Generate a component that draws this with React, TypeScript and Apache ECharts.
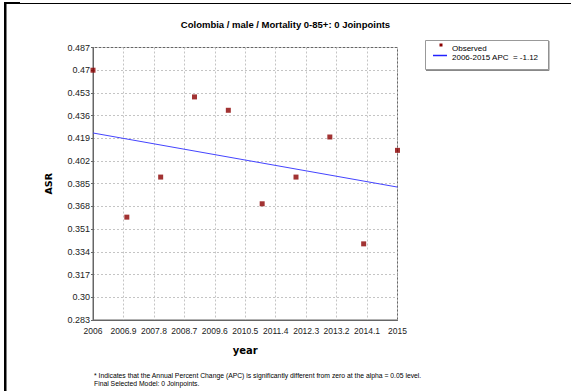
import React, { useEffect, useRef } from "react";
import * as echarts from "echarts";

const years = [2006, 2007, 2008, 2009, 2010, 2011, 2012, 2013, 2014, 2015];
const observed = [0.47, 0.36, 0.39, 0.45, 0.44, 0.37, 0.39, 0.42, 0.34, 0.41];
const fitYears = [2006, 2015];
const fitValues = [0.423, 0.3825];
const titleText = "Colombia / male / Mortality 0-85+: 0 Joinpoints";
const legendLabels = ["Observed", "2006-2015 APC  = -1.12"];
const footnotes = [
  "* Indicates that the Annual Percent Change (APC) is significantly different from zero at the alpha = 0.05 level.",
  "Final Selected Model: 0 Joinpoints.",
];
const yMin = 0.283;
const yMax = 0.487;
const yStep = 0.017;
const xMin = 2006;
const xMax = 2015;
const xStep = 0.9;

const FONT = "'Liberation Sans', Arial, sans-serif";
const BOLD = "'DejaVu Sans', 'Liberation Sans', sans-serif";

function fmtY(v: number): string {
  let s = v.toFixed(3);
  while (s.endsWith("0") && s.split(".")[1].length > 2) s = s.slice(0, -1);
  return s;
}
function fmtX(v: number): string {
  return String(parseFloat(v.toFixed(1)));
}

export default function App() {
  const ref = useRef<HTMLDivElement>(null);
  useEffect(() => {
    if (!ref.current) return;
    const chart = echarts.init(ref.current, null, { renderer: "svg" });
    const gridLine = { show: true, lineStyle: { color: "#c4c4c4", type: [2, 2] as any, width: 1 } };
    chart.setOption({
      animation: false,
      backgroundColor: "#ffffff",
      title: {
        text: titleText,
        left: "center",
        top: 14,
        textStyle: { fontFamily: "'Liberation Sans', Arial, sans-serif", fontSize: 9.5, fontWeight: "bold", color: "#000" },
      },
      grid: { left: 93, right: 173.5, top: 47.5, bottom: 71, show: true, borderColor: "#666", borderWidth: 1, containLabel: false },
      xAxis: {
        type: "value",
        min: xMin,
        max: xMax,
        interval: xStep,
        name: "year",
        nameLocation: "middle",
        nameGap: 25,
        nameTextStyle: { fontFamily: BOLD, fontSize: 10, fontWeight: "bold", color: "#000" },
        axisLine: { show: true, lineStyle: { color: "#666" } },
        axisTick: { show: false },
        axisLabel: { formatter: (v: number) => fmtX(v), fontFamily: FONT, fontSize: 8.5, color: "#222", margin: 6, showMinLabel: true, showMaxLabel: true },
        splitLine: gridLine,
      },
      yAxis: {
        type: "value",
        min: yMin,
        max: yMax,
        interval: yStep,
        name: "ASR",
        nameLocation: "middle",
        nameRotate: 90,
        nameGap: 40,
        nameTextStyle: { fontFamily: BOLD, fontSize: 9.5, fontWeight: "bold", color: "#000" },
        axisLine: { show: true, lineStyle: { color: "#666" } },
        axisTick: { show: true, length: 2, lineStyle: { color: "#666" } },
        axisLabel: { formatter: (v: number) => fmtY(v), fontFamily: FONT, fontSize: 9, color: "#222", margin: 3, showMinLabel: true, showMaxLabel: true },
        splitLine: gridLine,
      },
      series: [
        {
          type: "scatter",
          name: legendLabels[0],
          data: years.map((y, i) => [y, observed[i]]),
          symbol: "rect",
          symbolSize: 5,
          itemStyle: { color: "#8b0000" },
          clip: false,
        },
        {
          type: "line",
          name: legendLabels[1],
          data: fitYears.map((y, i) => [y, fitValues[i]]),
          showSymbol: false,
          symbol: "none",
          lineStyle: { color: "#4444ff", width: 1 },
        },
      ],
      graphic: [
        { type: "line", shape: { x1: 4, y1: 3.5, x2: 571, y2: 3.5 }, style: { stroke: "#000", lineWidth: 1 } },
        { type: "rect", shape: { x: 4, y: 2, width: 16, height: 2 }, style: { fill: "#000" } },
        { type: "rect", shape: { x: 4, y: 2, width: 2.5, height: 389 }, style: { fill: "#000" } },
        { type: "rect", shape: { x: 425.5, y: 40.5, width: 123, height: 29 }, style: { fill: "#fff", stroke: "#999", lineWidth: 1 } },
        { type: "line", shape: { x1: 549, y1: 41, x2: 549, y2: 70.5 }, style: { stroke: "#888", lineWidth: 1 } },
        { type: "line", shape: { x1: 426, y1: 70.5, x2: 549, y2: 70.5 }, style: { stroke: "#888", lineWidth: 1 } },
        { type: "rect", shape: { x: 439.5, y: 43.5, width: 3, height: 3 }, style: { fill: "#8b0000" } },
        { type: "line", shape: { x1: 433, y1: 55.5, x2: 447, y2: 55.5 }, style: { stroke: "#2222ff", lineWidth: 1.5 } },
        { type: "text", x: 452, y: 48, style: { text: legendLabels[0], fontFamily: FONT, fontSize: 8, fill: "#000", verticalAlign: "middle" } },
        { type: "text", x: 452, y: 57, style: { text: legendLabels[1], fontFamily: FONT, fontSize: 8, fill: "#000", verticalAlign: "middle" } },
        { type: "text", x: 94, y: 375, style: { text: footnotes[0], fontFamily: FONT, fontSize: 6.8, fill: "#000", verticalAlign: "middle" } },
        { type: "text", x: 94, y: 383, style: { text: footnotes[1], fontFamily: FONT, fontSize: 6.8, fill: "#000", verticalAlign: "middle" } },
      ],
    });
    return () => chart.dispose();
  }, []);
  return <div ref={ref} style={{ position: "fixed", left: 0, top: 0, width: 571, height: 391 }} />;
}
